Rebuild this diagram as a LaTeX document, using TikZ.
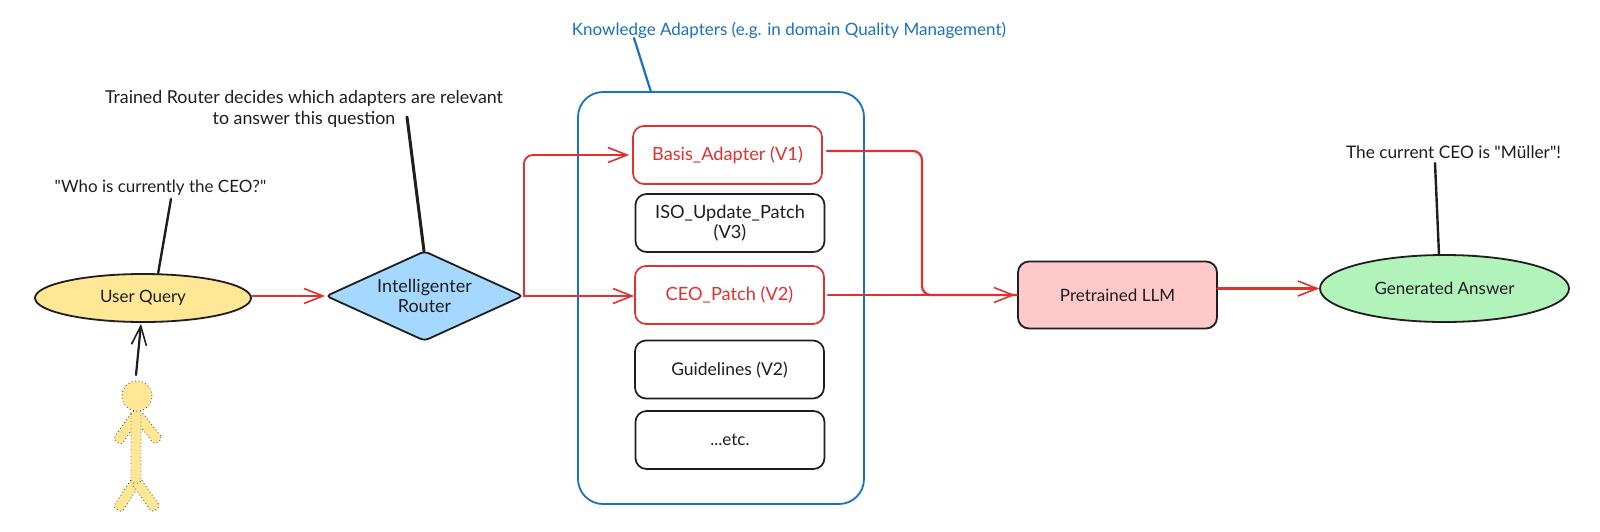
\documentclass[tikz,border=0pt]{standalone}
\usepackage{fontspec}
\newfontfamily\handfont{Lato}
\usetikzlibrary{arrows.meta,shapes.geometric,calc}
\definecolor{ink}{HTML}{1E1E1E}
\definecolor{redx}{HTML}{E03131}
\definecolor{bluex}{HTML}{1971C2}
\definecolor{yellowx}{HTML}{FFE796}
\definecolor{skyx}{HTML}{A5D8FF}
\definecolor{greenx}{HTML}{B2F2BB}
\definecolor{pinkx}{HTML}{FFC9C9}
\tikzset{
  fs/.style={font=\handfont\fontsize{#1}{20.5}\selectfont},
  txt/.style={fs=17,text=ink,align=center,inner sep=0pt},
  outline/.style={draw=ink,line width=1.8pt},
  oval/.style={ellipse,outline,inner sep=0pt,txt},
  adapter/.style={rectangle,rounded corners=11pt,minimum width=189pt,minimum height=58pt,line width=1.7pt,inner sep=0pt,txt},
  blackbox/.style={adapter,draw=ink},
  redbox/.style={adapter,draw=redx,text=redx},
  barb/.style={-{Straight Barb[length=19pt,width=15pt,line width=1.6pt]}},
  redarrow/.style={barb,draw=redx,line width=1.8pt,line cap=round},
  leader/.style={draw=ink,line width=2.4pt,line cap=round},
  dots/.style={draw=ink!75,line width=.9pt,dash pattern=on .9pt off 2.6pt,fill=yellowx},
  limb/.style={dots,rectangle,rounded corners=3pt,minimum height=10pt,inner sep=0pt},
}
\begin{document}
\begin{tikzpicture}[x=1pt,y=-1pt]
\useasboundingbox[fill=white] (0,0) rectangle (1600,531);

% adapter container
\node[draw=bluex,line width=1.8pt,rectangle,rounded corners=25pt,minimum width=286pt,minimum height=412pt,inner sep=0pt] (kbox) at (721,298) {};
\node[txt,text=bluex] (klabel) at (789,30) {Knowledge Adapters (e.g. in domain Quality Management)};
\coordinate (kl) at (634,38);
\coordinate (kb) at (651,92);
\draw[draw=bluex,line width=2.2pt,line cap=round] (kl) -- (kb);

% main flow nodes
\node[oval,fill=yellowx,minimum width=216pt,minimum height=48pt] (user) at (143,298) {User Query};
\node[diamond,outline,rounded corners=4pt,fill=skyx,inner sep=0pt,minimum width=197pt,minimum height=90pt,aspect=2.19,txt,fs=18] (router) at (424.5,296) {Intelligenter\\Router};
\node[redbox,fs=18.2] (basis) at (727.5,155) {Basis\_Adapter (V1)};
\node[blackbox,fs=18.2] (iso) at (730,223) {ISO\_Update\_Patch\\(V3)};
\node[redbox,fs=18.2] (ceo) at (729.5,295) {CEO\_Patch (V2)};
\node[blackbox,fs=17.5] (guide) at (729.5,369.5) {Guidelines (V2)};
\node[blackbox] (etc) at (730,440) {...etc.};
\node[rectangle,outline,rounded corners=11pt,fill=pinkx,minimum width=199pt,minimum height=67pt,inner sep=0pt,txt] (llm) at (1117.5,295) {Pretrained LLM};
\node[oval,fill=greenx,minimum width=249pt,minimum height=67pt] (answer) at (1444.5,288.5) {Generated Answer};

% annotations
\node[txt] (qlabel) at (160.5,188) {"Who is currently the CEO?"};
\node[txt,fs=17.8] (rlabel) at (304,109) {Trained Router decides which adapters are relevant\\to answer this question};
\node[txt,fs=17.3] (alabel) at (1453.5,152) {The current CEO is "Müller"!};
\coordinate (ql) at (171,199);
\coordinate (qu) at (158,274);
\coordinate (rl) at (407,117);
\coordinate (rr) at (424,251);
\coordinate (al) at (1435,163);
\coordinate (aa) at (1439,255);
\draw[leader] (ql) -- (qu);
\draw[leader,line width=3pt] (rl) -- (rr);
\draw[leader] (al) -- (aa);

% person
\node[limb,minimum width=34pt,rotate=55] (armL) at (127,428) {};
\node[limb,minimum width=34pt,rotate=-52] (armR) at (148,428) {};
\node[limb,minimum width=35pt,rotate=57] (legL) at (127,495) {};
\node[limb,minimum width=35pt,rotate=-55] (legR) at (146,495) {};
\node[limb,minimum width=72pt,rotate=90] (trunk) at (136,447) {};
\node[circle,dots,minimum size=30pt,inner sep=0pt] (head) at (137,396) {};
\coordinate (ptop) at (136,375);
\draw[draw=ink,line width=2.2pt,line cap=round,barb] (ptop) -- ($(user.south)+(-2,1)$);

% connectors
\draw[redarrow] (user.east |- router.west) -- (router.west);
\draw[redarrow,rounded corners=9pt,shorten >=3pt] (router.east) |- (basis.west);
\draw[redarrow,line width=2.6pt] (router.east) -- (router.east -| ceo.west);
\coordinate (bout) at ($(basis.east)+(4,-4)$);
\coordinate (merge) at (922,295);
\draw[redx,line width=2.2pt,line cap=round,rounded corners=9pt] (bout) -| (merge) -- (llm.west);
\draw[redarrow,line width=2.4pt,shorten <=3pt,shorten >=2pt] (ceo.east) -- (llm.west);
\draw[redarrow,line width=3pt] (llm.east |- answer.west) -- (answer.west);
\end{tikzpicture}
\end{document}
